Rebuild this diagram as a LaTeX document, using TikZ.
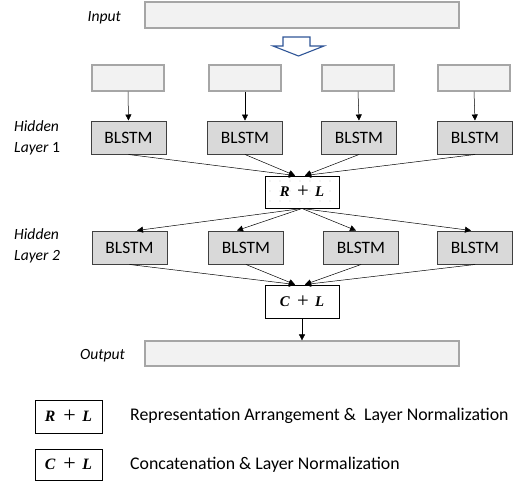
\documentclass[tikz,border=0pt]{standalone}
\usepackage{fontspec}
\setmainfont{Carlito}
\newfontfamily\mathserif{Liberation Serif}
\usetikzlibrary{arrows.meta,calc}
\definecolor{boxgray}{HTML}{F2F2F2}
\definecolor{boxline}{HTML}{A6A6A6}
\definecolor{cellfill}{HTML}{D9D9D9}
\definecolor{cellline}{HTML}{404040}
\definecolor{flowblue}{HTML}{2F5597}
\definecolor{dotgray}{HTML}{CFCFCF}
% operator symbol: bold italic letters around an enlarged upright plus
\newcommand{\opsym}[2]{\mathserif{\bfseries\itshape #1}\hspace{0.5em}\raisebox{-0.08em}{\scalebox{1.4}{+}}\hspace{0.42em}{\bfseries\itshape #2}}
\begin{document}
\begin{tikzpicture}[x=1pt,y=-1pt,
  iobox/.style={draw=boxline,line width=1.2pt,fill=boxgray,inner sep=0pt},
  cell/.style={draw=cellline,line width=1pt,fill=cellfill,inner sep=0pt,
    minimum width=75pt,minimum height=33pt,font=\fontsize{17.4}{20}\selectfont},
  opbox/.style={draw=black,line width=1pt,inner sep=0pt,
    minimum width=74pt,minimum height=32pt,font=\fontsize{14.8}{17}\selectfont},
  keybox/.style={draw=black,line width=1pt,fill=white,inner sep=0pt,
    minimum width=67pt,font=\fontsize{15.8}{18}\selectfont},
  sidelabel/.style={font=\fontsize{15.6}{21}\selectfont\itshape,inner sep=0pt,align=left},
  legendtext/.style={font=\fontsize{17.8}{20}\selectfont,inner sep=0pt,anchor=west},
  link/.style={draw=black,line width=0.5pt,-{Triangle[length=6pt,width=6pt]}}]
\useasboundingbox (0,0) rectangle (528,485);

% input and output sequences
\node[iobox,minimum width=314pt,minimum height=26pt] (in) at (302,15) {};
\node[iobox,minimum width=314pt,minimum height=25pt] (out) at (302,353.5) {};
\node[sidelabel,anchor=east] (inlab) at (121,18) {Input};
\node[sidelabel,anchor=east] (outlab) at (125,356) {Output};

% split arrow
\draw[flowblue,line width=1.1pt,fill=white,line join=miter]
  (283,37) -- (310,37) -- (310,46) -- (324,46) -- (298.5,56) -- (273,46) -- (283,46) -- cycle;

% input chunks
\foreach \i/\x in {1/128,2/245,3/358,4/474}
  \node[iobox,minimum width=72pt,minimum height=26pt] (s\i) at (\x,78) {};

% hidden layer 1
\foreach \i/\x in {1/128.5,2/245,3/359,4/475}
  \node[cell] (a\i) at (\x,137.5) {BLSTM};
\foreach \i in {1,...,4}
  \draw[link] (s\i.south) -- (a\i.north);

% rearrangement box with its dotted background
\fill[white] (265,176) rectangle (339,208);
\foreach \dx in {270,280,...,335}
  \foreach \dy in {181,191,201}
    \fill[dotgray] (\dx,\dy) circle (0.6pt);
\node[opbox] (rl) at (302,192) {\opsym{R}{L}};
\draw[link] (a1.south) -- ($(rl.north)+(-7,0)$);
\draw[link] (a2.south) -- ($(rl.north)+(-7,0)$);
\draw[link] (a3.south) -- ($(rl.north)+(3,0)$);
\draw[link] (a4.south) -- ($(rl.north)+(3,0)$);

% hidden layer 2
\foreach \i/\x in {1/129.5,2/246,3/361,4/475}
  \node[cell] (b\i) at (\x,247.5) {BLSTM};
\draw[link] (rl.south) -- ($(b1.north)+(7.5,0)$);
\draw[link] (rl.south) -- ($(b2.north)+(-9,0)$);
\draw[link] (rl.south) -- ($(b3.north)+(-5,0)$);
\draw[link] (rl.south) -- ($(b4.north)+(-4,0)$);

\node[opbox,fill=white,minimum height=33pt] (cl) at (302,301.5) {\opsym{C}{L}};
\draw[link] (b1.south) -- ($(cl.north)+(-7,0)$);
\draw[link] (b2.south) -- ($(cl.north)+(-7,0)$);
\draw[link] (b3.south) -- ($(cl.north)+(3,0)$);
\draw[link] (b4.south) -- ($(cl.north)+(3,0)$);
\draw[link] (cl.south) -- (out.north);

% layer labels
\node[sidelabel,anchor=west] (h1) at (14,137.5) {Hidden\\Layer {\upshape 1}};
\node[sidelabel,anchor=west] (h2) at (14,246) {Hidden\\Layer 2};

% legend
\node[keybox,minimum height=33pt] (k1) at (68.5,416.5) {\opsym{R}{L}};
\node[keybox,minimum height=31pt] (k2) at (68.5,464.5) {\opsym{C}{L}};
\node[legendtext] (t1) at (130,416) {Representation Arrangement \&\ \ Layer Normalization};
\node[legendtext] (t2) at (130,465) {Concatenation \& Layer Normalization};
\end{tikzpicture}
\end{document}
